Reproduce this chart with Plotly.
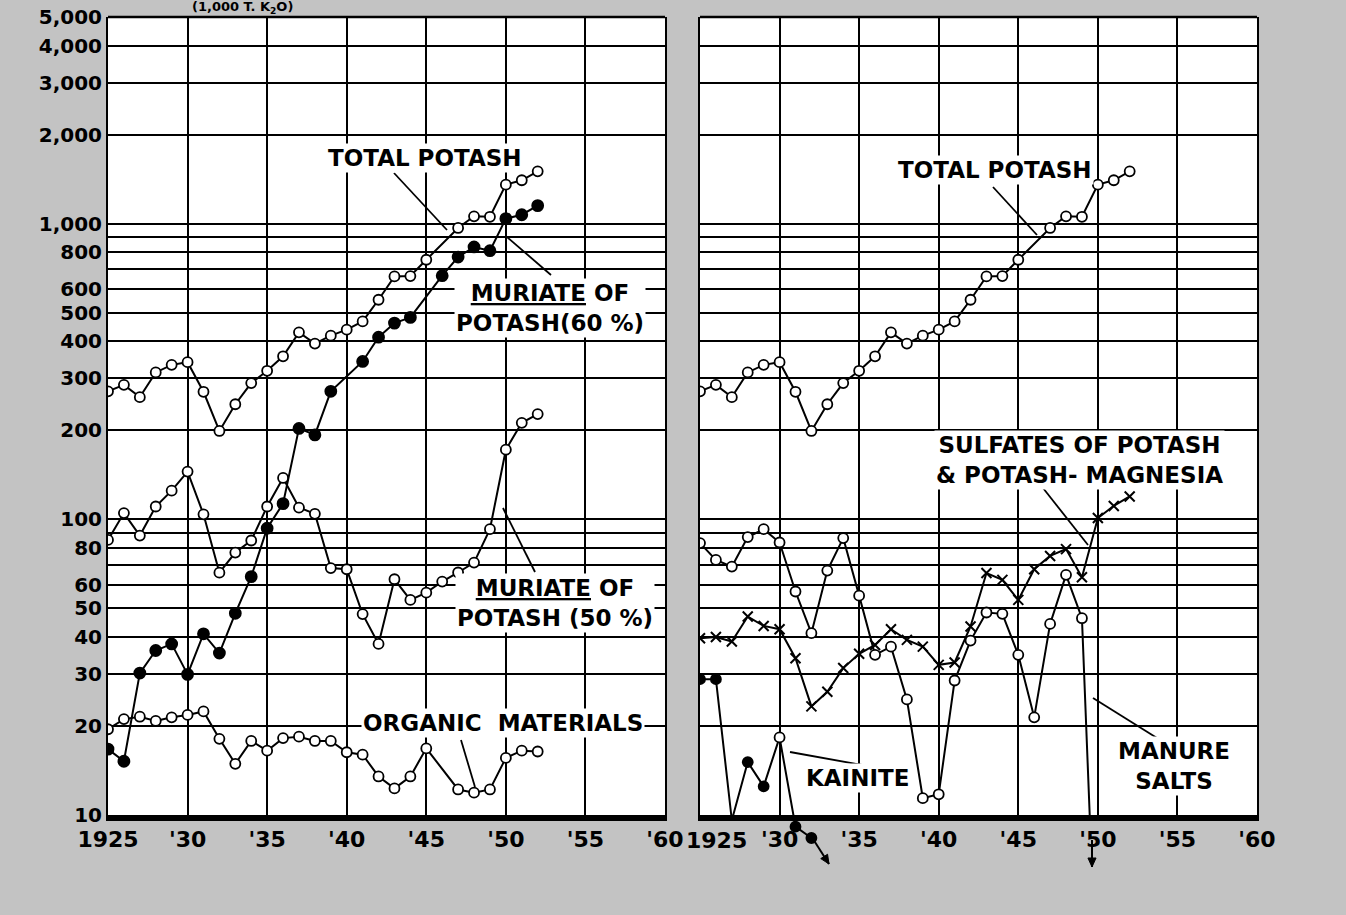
import math
import plotly.graph_objects as go

# ---------------- data ----------------
# Left panel
total_years = [1925, 1926, 1927, 1928, 1929, 1930, 1931, 1932, 1933, 1934, 1935, 1936, 1937, 1938,
               1939, 1940, 1941, 1942, 1943, 1944, 1945, 1947, 1948, 1949, 1950, 1951, 1952]
total_vals = [271, 285, 259, 314, 333, 340, 270, 199, 245, 289, 318, 356, 429, 393,
              418, 438, 467, 553, 663, 665, 755, 967, 1059, 1055, 1355, 1402, 1503]

mur60_years = [1925, 1926, 1927, 1928, 1929, 1930, 1931, 1932, 1933, 1934, 1935, 1936, 1937, 1938,
               1939, 1941, 1942, 1943, 1944, 1946, 1947, 1948, 1949, 1950, 1951, 1952]
mur60_vals = [16.7, 15.2, 30.2, 36, 37.9, 29.9, 41, 35.3, 48.1, 64, 93.3, 113, 203, 193,
              271, 342, 413, 461, 482, 667, 771, 834, 810, 1040, 1072, 1151]

mur50_years = list(range(1925, 1953))
mur50_vals = [85.2, 105, 88.1, 110.5, 125, 145, 104, 66, 77.2, 84.8, 110.5, 138, 109.6, 104.4,
              68.4, 67.8, 47.8, 37.9, 62.7, 53.4, 56.5, 61.6, 66.1, 71.4, 92.6, 172, 212, 227]

organic_years = [1925, 1926, 1927, 1928, 1929, 1930, 1931, 1932, 1933, 1934, 1935, 1936, 1937, 1938,
                 1939, 1940, 1941, 1942, 1943, 1944, 1945, 1947, 1948, 1949, 1950, 1951, 1952]
organic_vals = [19.5, 21.1, 21.5, 20.8, 21.4, 21.8, 22.4, 18.1, 14.9, 17.8, 16.5, 18.2, 18.4, 17.8,
                17.8, 16.3, 16.0, 13.5, 12.3, 13.5, 16.8, 12.2, 11.9, 12.2, 15.6, 16.5, 16.4]

# Right panel
manure_years = list(range(1925, 1951))
manure_vals = [83.1, 72.9, 69.2, 87.1, 92.6, 83.5, 57, 41.2, 67.1, 86.4, 55.2, 34.8, 37.1, 24.6,
               11.4, 11.75, 28.5, 38.9, 48.4, 47.9, 34.8, 21.4, 44.3, 64.9, 46.3, 2.0]

sulfate_years = list(range(1925, 1953))
sulfate_vals = [39.6, 40, 38.6, 46.9, 43.6, 42.5, 33.9, 23.3, 26.1, 31.4, 35.1, 37.6, 42.5, 39.1,
                37.1, 32.2, 32.8, 43.4, 65.8, 62.4, 53.4, 67.8, 75.2, 79.3, 63.7, 101, 111, 119.5]

kainite_years = [1925, 1926, 1927, 1928, 1929, 1930, 1931, 1932]
kainite_vals = [28.8, 28.8, 9.6, 15.1, 12.5, 18.3, 9.13, 8.36]
kainite_open = [False, False, False, False, False, True, False, False]
kainite_shown = [True, True, False, True, True, True, True, True]

# axes
x_tick_vals = [1925, 1930, 1935, 1940, 1945, 1950, 1955, 1960]
x_tick_text = ["1925", "'30", "'35", "'40", "'45", "'50", "'55", "'60"]
y_tick_vals = [10, 20, 30, 40, 50, 60, 70, 80, 90, 100, 200, 300, 400, 500, 600, 700, 800, 900,
               1000, 2000, 3000, 4000, 5000]
y_tick_text = ["10", "20", "30", "40", "50", "60", "", "80", "", "100", "200", "300", "400", "500",
               "600", "", "800", "", "1,000", "2,000", "3,000", "4,000", "5,000"]

# ---------------- layout geometry (pixels) ----------------
W, H = 1346, 915
PL0, PL1 = 108, 665      # left panel x extent
PR0, PR1 = 700, 1257     # right panel x extent
PT, PB = 17, 815         # panel top/bottom


def px(x):
    return x / W


def py(y):
    return 1 - y / H


FONT = "DejaVu Sans"

fig = go.Figure()


def line_trace(xs, ys, xa, ya, symbol="circle", fill="white", size=10):
    return go.Scatter(
        x=xs, y=ys, xaxis=xa, yaxis=ya, mode="lines+markers",
        line=dict(color="black", width=2),
        marker=dict(symbol=symbol, size=size, color=fill,
                    line=dict(color="black", width=1.8)),
        showlegend=False, hoverinfo="x+y",
    )


# left panel
fig.add_trace(line_trace(total_years, total_vals, "x", "y"))
fig.add_trace(line_trace(mur60_years, mur60_vals, "x", "y", fill="black", size=11))
fig.add_trace(line_trace(mur50_years, mur50_vals, "x", "y"))
fig.add_trace(line_trace(organic_years, organic_vals, "x", "y"))

# right panel
fig.add_trace(line_trace(total_years, total_vals, "x2", "y2"))
fig.add_trace(line_trace(manure_years, manure_vals, "x2", "y2"))
fig.add_trace(go.Scatter(
    x=sulfate_years, y=sulfate_vals, xaxis="x2", yaxis="y2", mode="lines+markers",
    line=dict(color="black", width=2),
    marker=dict(symbol="x-thin", size=10, color="black", line=dict(color="black", width=2)),
    showlegend=False,
))
# kainite continues below the scale -> drawn on an extended copy of the same scale
fig.add_trace(go.Scatter(
    x=kainite_years, y=kainite_vals, xaxis="x3", yaxis="y3", mode="lines+markers",
    line=dict(color="black", width=2),
    marker=dict(symbol="circle", size=[10 if s else 0 for s in kainite_shown],
                color=["#ffffff" if o else "#000000" for o in kainite_open],
                opacity=1, line=dict(color="#000000", width=1.8)),
    showlegend=False, cliponaxis=True,
))

ylog_top = math.log10(5000)
per_px = (ylog_top - 1) / (PB - PT)
ext_lo = ylog_top - (H - PT) * per_px

common_x = dict(range=[1925, 1960], tickvals=x_tick_vals, showgrid=True, gridcolor="black",
                gridwidth=1.5, zeroline=False, showline=True, linecolor="black", linewidth=6,
                ticks="", tickfont=dict(family=FONT, size=22, color="black", weight="bold"),
                fixedrange=True)
common_y = dict(type="log", range=[1, ylog_top], tickvals=y_tick_vals, showgrid=True,
                gridcolor="black", gridwidth=2, zeroline=False, showline=True, linecolor="black",
                linewidth=2, mirror=True, ticks="", fixedrange=True)

fig.update_layout(
    width=W, height=H,
    margin=dict(l=0, r=0, t=0, b=0, autoexpand=False),
    paper_bgcolor="#c3c3c3",
    plot_bgcolor="rgba(0,0,0,0)",
    font=dict(family=FONT, color="black"),
    hovermode=False,
    xaxis=dict(domain=[px(PL0), px(PL1)], anchor="y", ticktext=x_tick_text, **common_x),
    yaxis=dict(domain=[py(PB), py(PT)], anchor="x", ticktext=y_tick_text,
               tickfont=dict(family=FONT, size=20, color="black", weight="bold"), **common_y),
    xaxis2=dict(domain=[px(PR0), px(PR1)], anchor="y2",
                ticktext=[""] + x_tick_text[1:], **common_x),
    yaxis2=dict(domain=[py(PB), py(PT)], anchor="x2", showticklabels=False, **common_y),
    xaxis3=dict(domain=[px(PR0), px(PR1)], anchor="y3", range=[1925, 1960], visible=False,
                fixedrange=True),
    yaxis3=dict(domain=[0, py(PT)], anchor="x3", type="log", range=[ext_lo, ylog_top],
                visible=False, fixedrange=True),
)

shapes = []
# white plot areas
for x0, x1 in [(PL0, PL1), (PR0, PR1)]:
    shapes.append(dict(type="rect", xref="paper", yref="paper", x0=px(x0), x1=px(x1),
                       y0=py(PB), y1=py(PT), fillcolor="white", line=dict(width=0),
                       layer="below"))
    shapes.append(dict(type="line", xref="paper", yref="paper", x0=px(x0), x1=px(x1),
                       y0=py(PT), y1=py(PT), line=dict(color="black", width=2.5)))

# leader lines
leaders = [
    (394, 173, 447, 230), (507, 237, 551, 275), (503, 508, 535, 572), (461, 740, 475, 787),
    (993, 187, 1037, 235), (1043, 488, 1088, 545), (1093, 698, 1157, 738), (790, 752, 862, 765),
]
for x0, y0, x1, y1 in leaders:
    shapes.append(dict(type="line", xref="paper", yref="paper", x0=px(x0), y0=py(y0),
                       x1=px(x1), y1=py(y1), line=dict(color="black", width=1.8)))


# off-scale arrows (kainite continues down, manure salts 1950 below the scale)
def arrow(x0, y0, x1, y1, head=9):
    shapes.append(dict(type="line", xref="paper", yref="paper", x0=px(x0), y0=py(y0),
                       x1=px(x1), y1=py(y1), line=dict(color="black", width=2)))
    dx, dy = x1 - x0, y1 - y0
    L = math.hypot(dx, dy)
    ux, uy = dx / L, dy / L
    bx, by = x1 - ux * head, y1 - uy * head
    nx, ny = -uy * head * 0.45, ux * head * 0.45
    path = "M {:.5f} {:.5f} L {:.5f} {:.5f} L {:.5f} {:.5f} Z".format(
        px(x1), py(y1), px(bx + nx), py(by + ny), px(bx - nx), py(by - ny))
    shapes.append(dict(type="path", xref="paper", yref="paper", path=path,
                       fillcolor="black", line=dict(color="black", width=1)))


arrow(813, 839, 829, 864)
arrow(1092, 840, 1092, 867)
fig.update_layout(shapes=shapes)

labels = [
    ("TOTAL POTASH", 425, 158),
    ("<u>MURIATE</u> OF<br>POTASH(60 %)", 550, 308),
    ("<u>MURIATE</u> OF<br>POTASH (50 %)", 555, 603),
    ("ORGANIC  MATERIALS", 503, 723),
    ("TOTAL POTASH", 995, 170),
    ("SULFATES OF POTASH<br>& POTASH- MAGNESIA", 1079, 460),
    ("MANURE<br>SALTS", 1174, 766),
    ("KAINITE", 857, 778),
]
annotations = []
for text, x, y in labels:
    annotations.append(dict(text=text, x=px(x), y=py(y), xref="paper", yref="paper",
                            showarrow=False, xanchor="center", yanchor="middle",
                            font=dict(family=FONT, size=23, color="black", weight="bold"),
                            bgcolor="white", borderpad=1))
# extra "1925" label for the right panel
annotations.append(dict(text="1925", x=px(716), y=py(840), xref="paper", yref="paper",
                        showarrow=False, yanchor="middle",
                        font=dict(family=FONT, size=22, color="black", weight="bold")))
# y-axis unit at top edge
annotations.append(dict(text="(1,000 T. K<sub>2</sub>O)", x=px(190), y=py(7), xref="paper",
                        yref="paper", showarrow=False, yanchor="middle",
                        font=dict(family=FONT, size=13, color="black", weight="bold")))
fig.update_layout(annotations=annotations)

fig.write_html(
    "out.html",
    config={"displayModeBar": False},
    post_script="document.body.style.margin='0';document.body.style.overflow='hidden';",
)
